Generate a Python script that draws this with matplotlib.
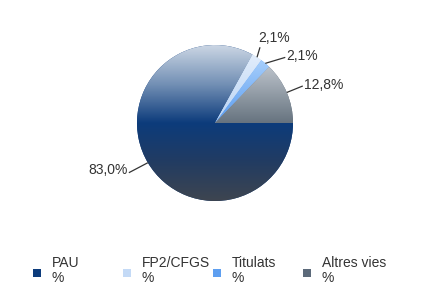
import numpy as np
import matplotlib
matplotlib.use('Agg')
import matplotlib.pyplot as plt
from matplotlib.colors import LinearSegmentedColormap
from matplotlib.patches import Rectangle

categories = ['PAU', 'FP2/CFGS', 'Titulats', 'Altres vies']
values = [83.0, 2.1, 2.1, 12.8]
legend_unit = '%'

plt.rcParams['font.family'] = ['Liberation Sans', 'DejaVu Sans']
TXT = '#333333'
W, H = 429, 306
fig = plt.figure(figsize=(W / 100, H / 100), dpi=100)
ax = fig.add_axes([0, 0, 1, 1])

def py(y):
    return H - y

cx, cy_img, R = 215, 123, 78
cy = py(cy_img)

base_colors = ['#0d3c7c', '#c4daf6', '#5e9ff0', '#5c6a7a']
grads = [['#cbd6e4', '#7390b5', '#0c3b7b', '#223c62', '#3e4550'],
         ['#e2edfb', '#b8d3f4'],
         ['#a6cefb', '#5a9cf0'],
         ['#bcc3cb', '#66737f']]

wedges, _ = ax.pie(values, colors=base_colors, startangle=0, counterclock=False,
                   center=(cx, cy), radius=R, wedgeprops=dict(linewidth=0))
ax.set_xlim(0, W)
ax.set_ylim(0, H)
ax.set_aspect('auto')
ax.axis('off')

arr = np.linspace(0, 1, 256).reshape(-1, 1)
for w, stops in zip(wedges, grads):
    ext = w.get_path().get_extents()
    cmap = LinearSegmentedColormap.from_list('g', stops)
    im = ax.imshow(arr, cmap=cmap, extent=(ext.x0, ext.x1, ext.y0, ext.y1),
                   origin='upper', aspect='auto', interpolation='bilinear',
                   zorder=w.get_zorder() + 0.1)
    im.set_clip_path(w)

# label layout: (line dx, line dy) from edge, (text dx, baseline dy) from line end, ha
label_layout = [((-19, 10), (-1, 1), 'right'),
                ((3, -10), (-2, -5), 'left'),
                ((20, -6), (1, 3), 'left'),
                ((16, -6.5), (1, 3), 'left')]
for w, v, (ld, td, ha) in zip(wedges, values, label_layout):
    mid = np.deg2rad((w.theta1 + w.theta2) / 2)
    ex, ey = cx + R * np.cos(mid), cy + R * np.sin(mid)
    lx, ly = ex + ld[0], ey - ld[1]
    ax.plot([ex, lx], [ey, ly], color=TXT, lw=0.9, zorder=5, solid_capstyle='butt')
    ax.text(lx + td[0], ly - td[1], f"{v:.1f}".replace('.', ',') + '%',
            ha=ha, va='baseline', fontsize=10, color=TXT, zorder=6)

# legend
for i, (name, col) in enumerate(zip(categories, base_colors)):
    x0 = 33 + 90 * i
    ax.add_patch(Rectangle((x0, py(277)), 8, 8, facecolor=col, edgecolor='none'))
    ax.text(x0 + 19, py(267), name, ha='left', va='baseline', fontsize=10, color=TXT)
    ax.text(x0 + 19, py(282), legend_unit, ha='left', va='baseline', fontsize=10, color=TXT)

fig.savefig('out.png', dpi=100)
